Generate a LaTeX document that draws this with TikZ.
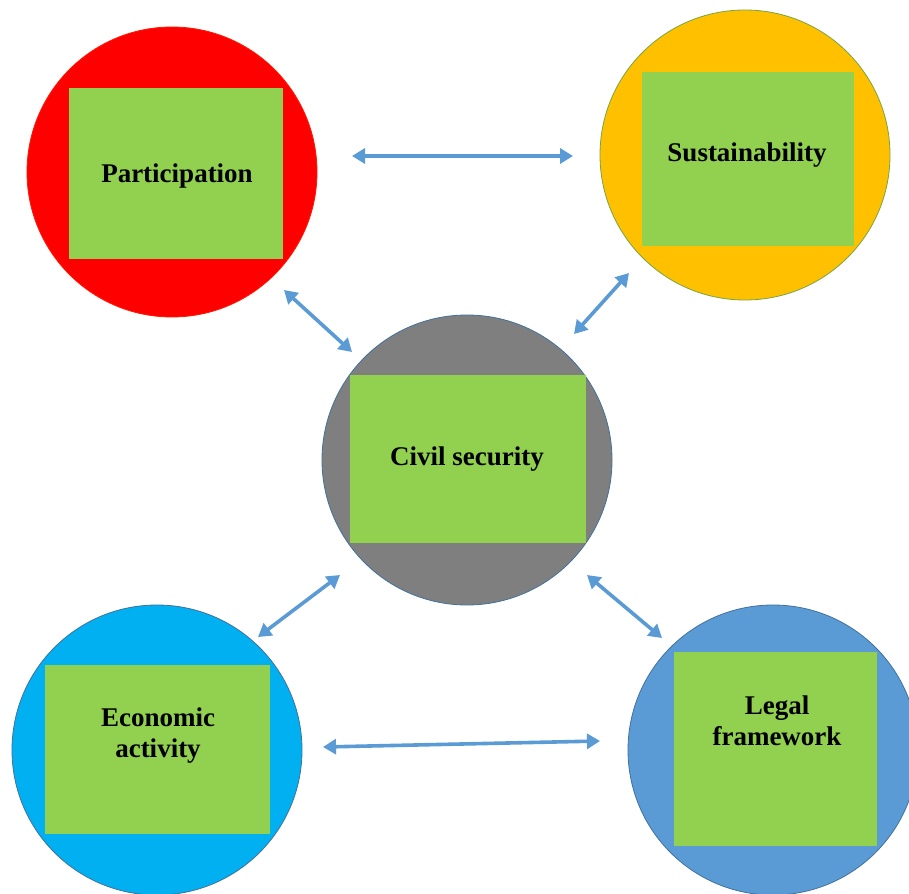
\documentclass[tikz,border=0pt]{standalone}
\usepackage{fontspec}
\setmainfont{Liberation Serif}
\usetikzlibrary{arrows.meta}
\definecolor{cred}{HTML}{FF0000}
\definecolor{corange}{HTML}{FFC000}
\definecolor{cgray}{HTML}{7F7F7F}
\definecolor{ccyan}{HTML}{00B0F0}
\definecolor{cblue}{HTML}{5B9BD5}
\definecolor{cgreen}{HTML}{92D050}
\definecolor{cline}{HTML}{41719C}
\definecolor{carrow}{HTML}{5B9BD5}
\tikzset{
  bigcirc/.style={circle, minimum size=290pt, inner sep=0pt, line width=0.8pt},
  sqbox/.style={rectangle, fill=cgreen, inner sep=0pt},
  lbl/.style={font=\fontsize{27}{31}\selectfont\bfseries, align=center, inner sep=0pt},
  link/.style={draw=carrow, line width=3.6pt, {Triangle[length=13pt,width=15pt]}-{Triangle[length=13pt,width=15pt]}}
}
\begin{document}
\begin{tikzpicture}[x=1pt,y=-1pt]
\useasboundingbox (0,0) rectangle (909,893);
\clip (0,0) rectangle (909,893);
\fill[white] (0,0) rectangle (909,893);
% circles
\node[bigcirc, fill=cred, draw=cred!80!orange] (P) at (172,172) {};
\node[bigcirc, fill=corange, draw=cgreen!80!black] (S) at (745,155) {};
\node[bigcirc, fill=cgray, draw=cline] (C) at (467,460) {};
\node[bigcirc, fill=ccyan, draw=cline] (E) at (157,750) {};
\node[bigcirc, fill=cblue, draw=cline] (L) at (773,750) {};
% squares
\node[sqbox, minimum width=214pt, minimum height=171pt] (Psq) at (176,173.5) {};
\node[sqbox, minimum width=212pt, minimum height=174pt] (Ssq) at (748,159) {};
\node[sqbox, minimum width=236pt, minimum height=168pt] (Csq) at (468,459) {};
\node[sqbox, minimum width=225pt, minimum height=169pt] (Esq) at (157.5,749.5) {};
\node[sqbox, minimum width=203pt, minimum height=194pt] (Lsq) at (775.5,749) {};
% labels
\node[lbl, anchor=base] (Pt) at (177,183) {Participation};
\node[lbl, anchor=base] (St) at (747,162) {Sustainability};
\node[lbl, anchor=base] (Ct) at (467,465) {Civil security};
\node[lbl] (Et) at (158,735.3) {Economic\\activity};
\node[lbl] (Lt) at (777,720.3) {Legal\\framework};
% arrow ends
\coordinate (ps1) at (352,156); \coordinate (ps2) at (573,156);
\coordinate (pc1) at (284,290); \coordinate (pc2) at (352,352);
\coordinate (sc1) at (629,273); \coordinate (sc2) at (574,334);
\coordinate (ce1) at (340,575); \coordinate (ce2) at (258,637);
\coordinate (cl1) at (587,575); \coordinate (cl2) at (662,638);
\coordinate (el1) at (323,747); \coordinate (el2) at (600,741);
\draw[link] (ps1) -- (ps2);
\draw[link] (pc1) -- (pc2);
\draw[link] (sc1) -- (sc2);
\draw[link] (ce1) -- (ce2);
\draw[link] (cl1) -- (cl2);
\draw[link] (el1) -- (el2);
\end{tikzpicture}
\end{document}
